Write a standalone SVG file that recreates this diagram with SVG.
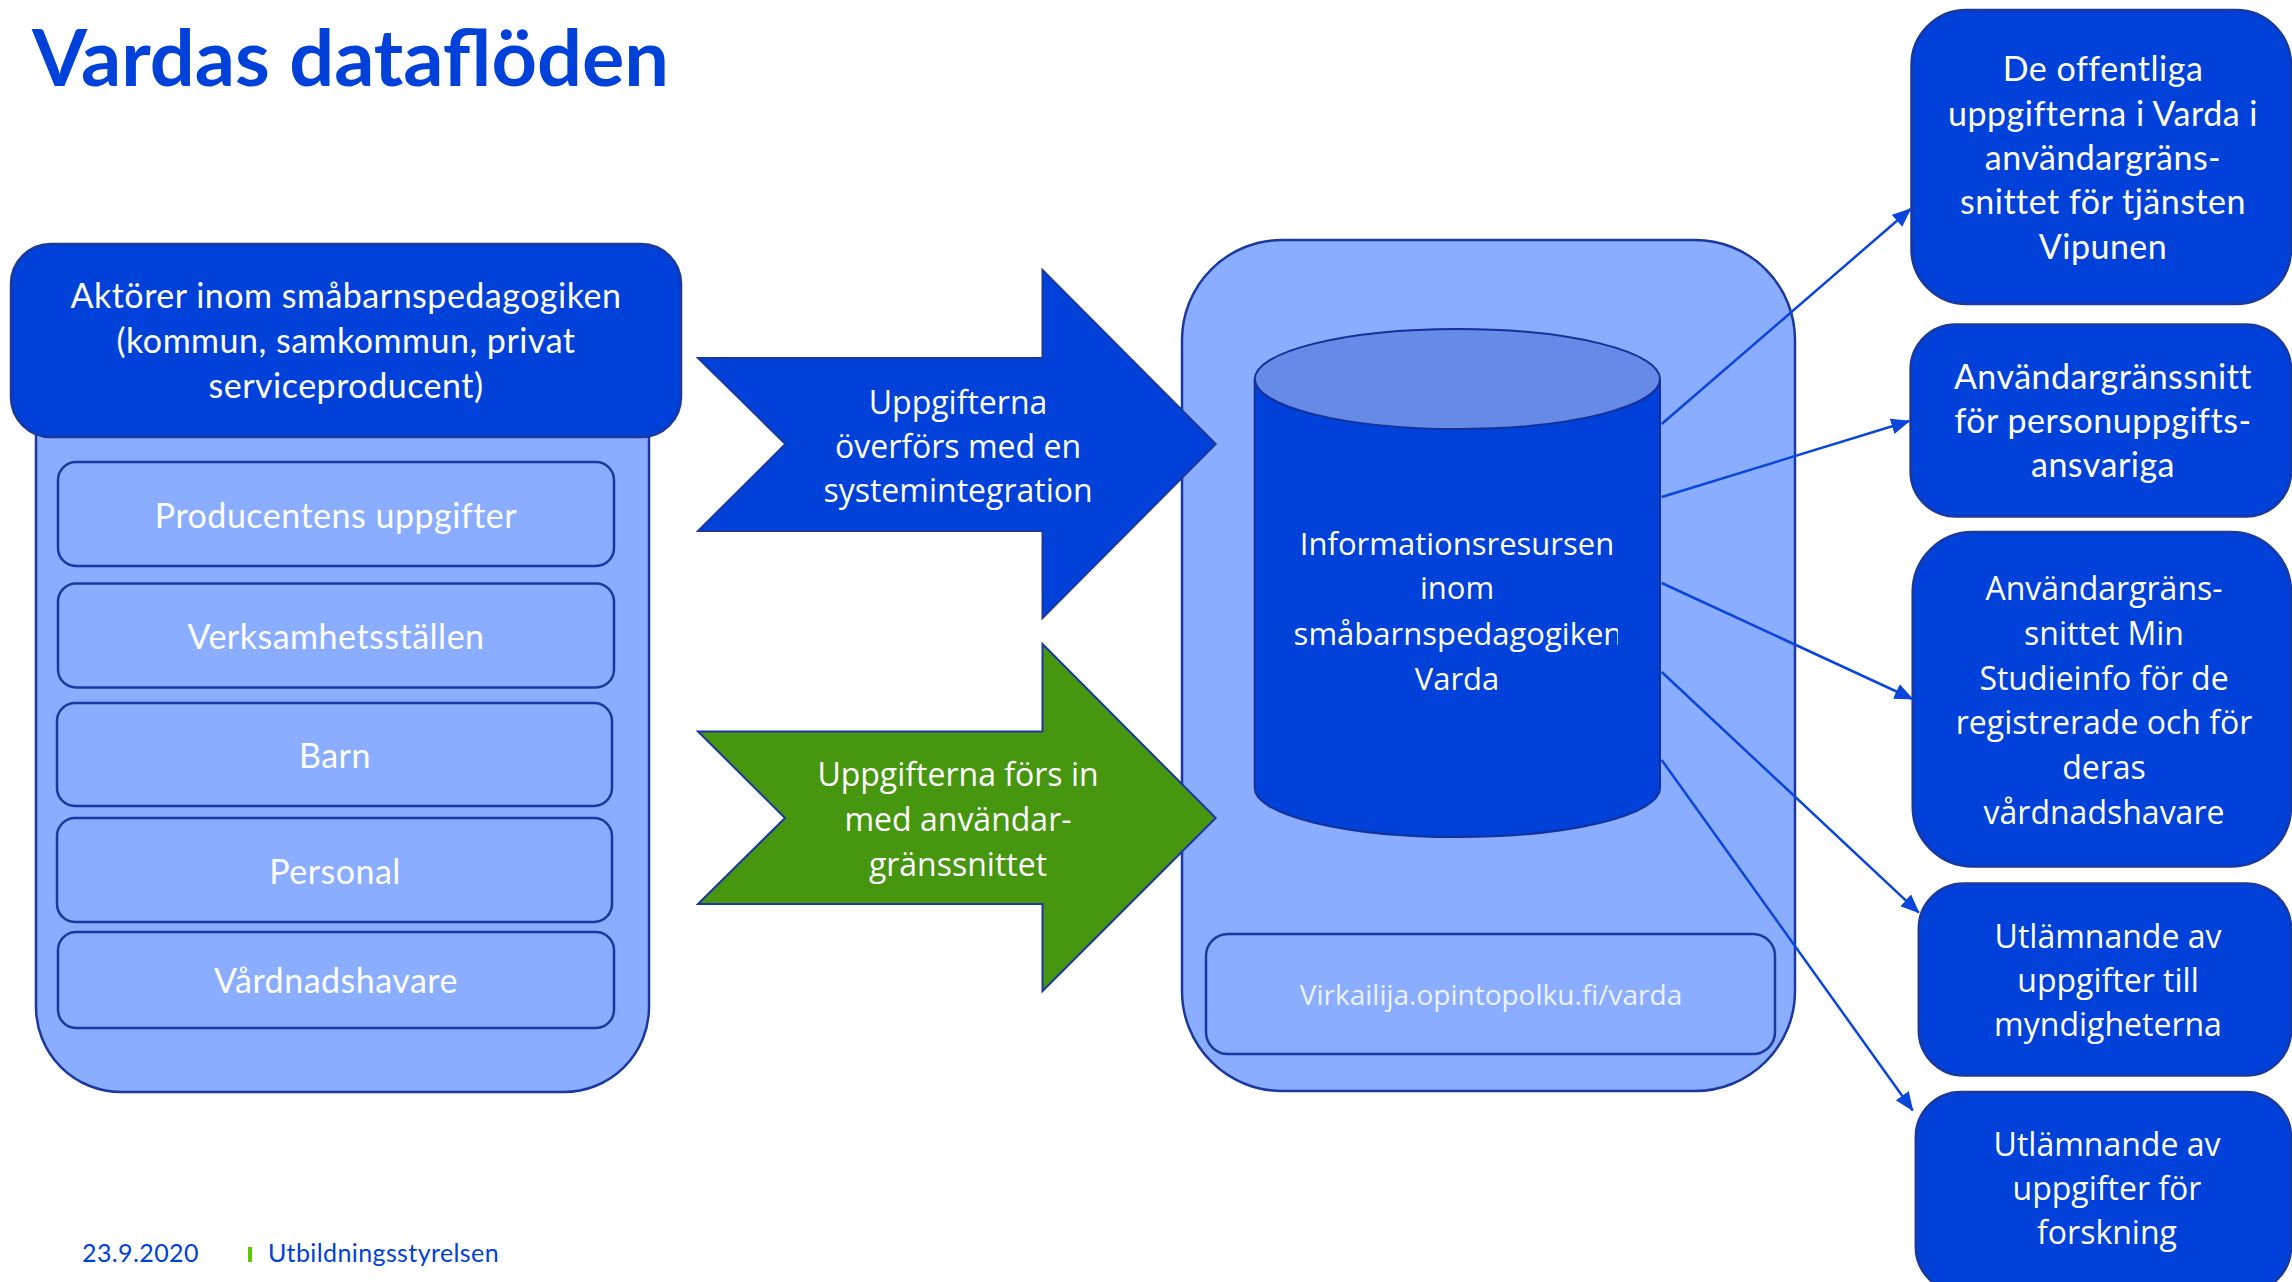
<svg xmlns="http://www.w3.org/2000/svg" width="2292" height="1282" viewBox="0 0 2292 1282">
<defs>
<style>
.cal{font-family:Lato,"Liberation Sans",sans-serif;text-anchor:middle;font-size:34px;letter-spacing:0.5px;}
.seg{font-family:"Open Sans","DejaVu Sans",sans-serif;text-anchor:middle;}
.wt{fill:#ffffff;}
.dk{fill:#0041D9;stroke:#1A38A0;stroke-width:2.5;}
.lt{fill:#8AADFF;stroke:#1A38A0;stroke-width:2.5;}
.arrow{stroke:#1A38A0;stroke-width:2;}
.conn{stroke:#0A45DC;stroke-width:2.5;fill:none;marker-end:url(#ah);}
.foot{font-family:Lato,"Liberation Sans",sans-serif;font-size:25px;letter-spacing:0.4px;fill:#0041D9;}
</style>
<marker id="ah" markerUnits="userSpaceOnUse" markerWidth="20" markerHeight="16" refX="18" refY="8" orient="auto"><path d="M0,0 L19,8 L0,16 Z" fill="#0A45DC"/></marker>
<clipPath id="cylclip"><rect x="1254" y="330" width="364" height="510"/></clipPath>
</defs>
<rect x="0" y="0" width="2292" height="1282" fill="#ffffff"/>

<text id="title" x="32" y="86" font-family="Lato,'Liberation Sans',sans-serif" font-weight="700" font-size="79" fill="#0041D9" textLength="637" lengthAdjust="spacingAndGlyphs">Vardas dataflöden</text>

<g id="actors">
<rect class="lt" x="36" y="300" width="613" height="792" rx="85"/>
<rect class="dk" x="11" y="244" width="670" height="193" rx="40"/>
<text class="cal wt" x="346" y="308">Aktörer inom småbarnspedagogiken</text>
<text class="cal wt" x="346" y="353">(kommun, samkommun, privat</text>
<text class="cal wt" x="346" y="398">serviceproducent)</text>
</g>
<g id="producent"><rect class="lt" x="58" y="462" width="556" height="104" rx="18"/><text class="cal wt" x="336" y="528">Producentens uppgifter</text></g>
<g id="verksamhet"><rect class="lt" x="58" y="583.5" width="556" height="104" rx="18"/><text class="cal wt" x="336" y="649">Verksamhetsställen</text></g>
<g id="barn"><rect class="lt" x="57" y="703" width="555" height="103" rx="18"/><text class="cal wt" x="335" y="768">Barn</text></g>
<g id="personal"><rect class="lt" x="57" y="818" width="555" height="104" rx="18"/><text class="cal wt" x="335" y="884">Personal</text></g>
<g id="vardnad"><rect class="lt" x="58" y="932" width="556" height="96" rx="18"/><text class="cal wt" x="336" y="993">Vårdnadshavare</text></g>

<g id="varda">
<rect class="lt" x="1182" y="240" width="613" height="851" rx="100"/>
<path fill="#0041D9" stroke="#16309A" stroke-width="2" d="M1254.7,379 L1254.7,788 A202.6,49 0 0 0 1660,788 L1660,379 Z"/>
<ellipse cx="1457.4" cy="379" rx="202.6" ry="50" fill="#668BE6" stroke="#16309A" stroke-width="2"/>
<text class="seg wt" font-size="31" x="1457" y="555">Informationsresursen</text>
<text class="seg wt" font-size="31" x="1457" y="599">inom</text>
<text class="seg wt" font-size="31" x="1458" y="645" clip-path="url(#cylclip)">småbarnspedagogiken</text>
<text class="seg wt" font-size="31" x="1457" y="690">Varda</text>
</g>
<g id="url">
<rect class="lt" x="1206" y="934" width="569" height="120" rx="22"/>
<text class="seg" font-size="28" fill="#EEF2FF" x="1491" y="1005">Virkailija.opintopolku.fi/varda</text>
</g>

<g id="arrow-system">
<path class="arrow" fill="#0041D9" d="M698,358 L1042.5,358 L1042.5,270 L1215.7,444 L1042.5,618 L1042.5,531 L698,531 L785.4,444 Z"/>
<text class="seg wt" font-size="32" x="958" y="414">Uppgifterna</text>
<text class="seg wt" font-size="32" x="958" y="458">överförs med en</text>
<text class="seg wt" font-size="32" x="958" y="502">systemintegration</text>
</g>
<g id="arrow-ui">
<path class="arrow" fill="#46960F" d="M698,731.5 L1042.5,731.5 L1042.5,644 L1215.7,818 L1042.5,991 L1042.5,904 L698,904 L785,818 Z"/>
<text class="seg wt" font-size="32" x="958" y="786">Uppgifterna förs in</text>
<text class="seg wt" font-size="32" x="958" y="831">med användar-</text>
<text class="seg wt" font-size="32" x="958" y="876">gränssnittet</text>
</g>

<g id="vipunen">
<rect class="dk" x="1911.5" y="10" width="379.5" height="294" rx="55"/>
<text class="cal wt" x="2103" y="81">De offentliga</text>
<text class="cal wt" x="2103" y="126">uppgifterna i Varda i</text>
<text class="cal wt" x="2103" y="170">användargräns-</text>
<text class="cal wt" x="2103" y="214">snittet för tjänsten</text>
<text class="cal wt" x="2103" y="259">Vipunen</text>
</g>
<g id="personuppgift">
<rect class="dk" x="1910.6" y="324.5" width="380.4" height="192" rx="45"/>
<text class="cal wt" x="2103" y="389">Användargränssnitt</text>
<text class="cal wt" x="2103" y="433">för personuppgifts-</text>
<text class="cal wt" x="2103" y="477">ansvariga</text>
</g>
<g id="studieinfo">
<rect class="dk" x="1912.7" y="532" width="378.3" height="334.5" rx="60"/>
<text class="seg wt" font-size="32" x="2104" y="600">Användargräns-</text>
<text class="seg wt" font-size="32" x="2104" y="645">snittet Min</text>
<text class="seg wt" font-size="32" x="2104" y="690">Studieinfo för de</text>
<text class="seg wt" font-size="32" x="2104" y="734">registrerade och för</text>
<text class="seg wt" font-size="32" x="2104" y="779">deras</text>
<text class="seg wt" font-size="32" x="2104" y="824">vårdnadshavare</text>
</g>
<g id="myndigheter">
<rect class="dk" x="1918.8" y="883.5" width="372.2" height="192" rx="45"/>
<text class="seg wt" font-size="32" x="2108" y="948">Utlämnande av</text>
<text class="seg wt" font-size="32" x="2108" y="992">uppgifter till</text>
<text class="seg wt" font-size="32" x="2108" y="1036">myndigheterna</text>
</g>
<g id="forskning">
<rect class="dk" x="1915.8" y="1092" width="375.2" height="200" rx="45"/>
<text class="seg wt" font-size="32" x="2107" y="1156">Utlämnande av</text>
<text class="seg wt" font-size="32" x="2107" y="1200">uppgifter för</text>
<text class="seg wt" font-size="32" x="2107" y="1244">forskning</text>
</g>

<g id="connectors">
<path class="conn" d="M1661.7,424 L1910.6,209"/>
<path class="conn" d="M1661.7,497 L1909.3,421"/>
<path class="conn" d="M1661.7,583 L1912.7,699"/>
<path class="conn" d="M1661.7,672 L1918.8,912.6"/>
<path class="conn" d="M1661.7,760 L1912.7,1110.4"/>
</g>

<g id="footer">
<text class="foot" x="82" y="1262">23.9.2020</text>
<rect x="248" y="1247" width="4" height="15" fill="#5CC800"/>
<text class="foot" x="268" y="1262">Utbildningsstyrelsen</text>
</g>
</svg>
